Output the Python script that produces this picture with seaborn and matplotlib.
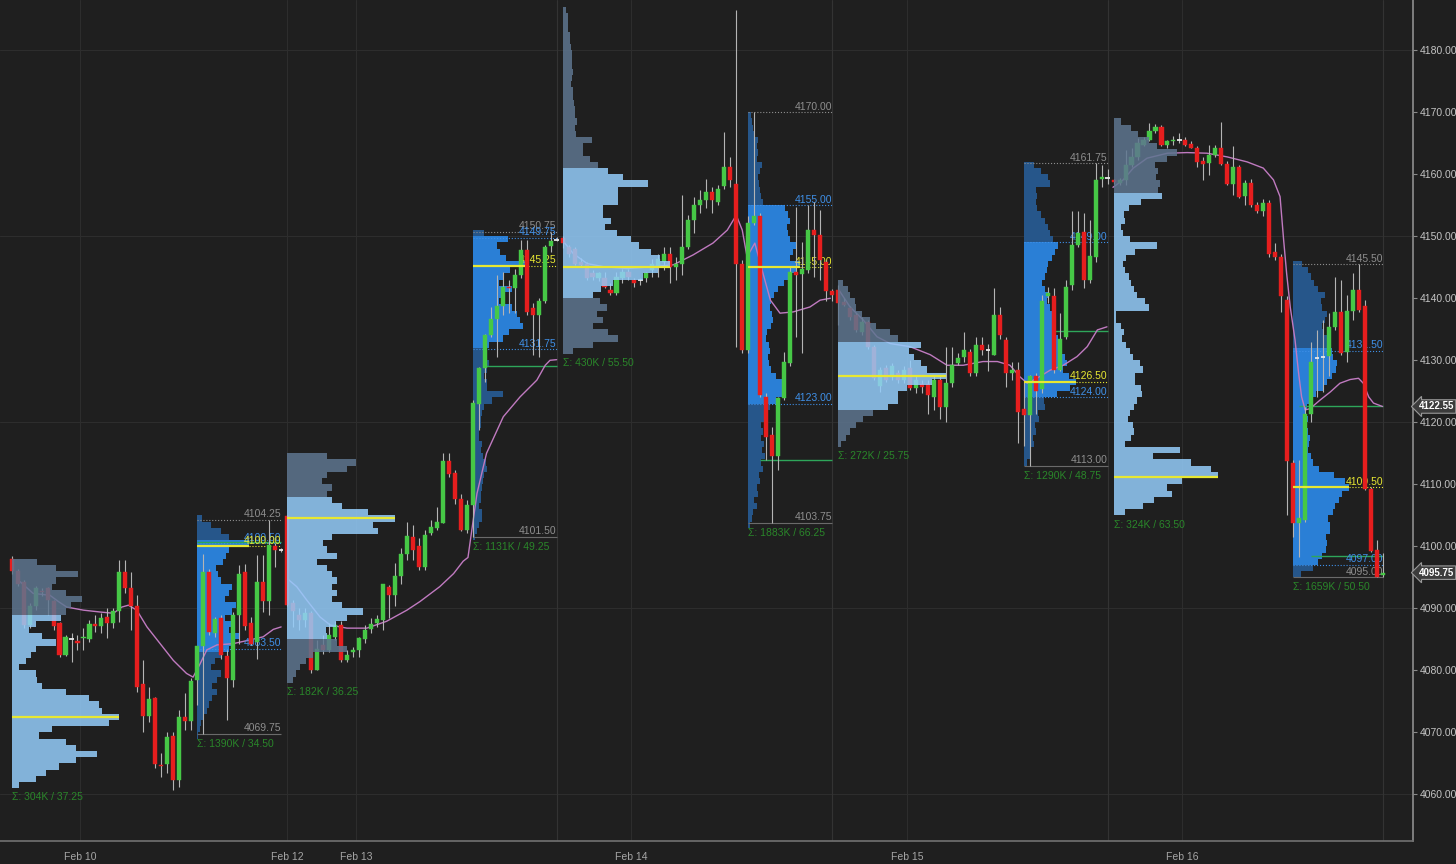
import numpy as np
import pandas as pd
import matplotlib
matplotlib.use("Agg")
import matplotlib.pyplot as plt
import matplotlib.transforms as mtransforms
import seaborn as sns

# ---------------- candles: 30 min bars (open, high, low, close), one list per session ----------------
eth1 = [(4098.0, 4098.5, 4095.5, 4096.0), (4096.0, 4096.3, 4093.6, 4094.0), (4094.2, 4094.5, 4086.8, 4087.3),
        (4087.3, 4090.8, 4086.8, 4090.3), (4090.4, 4093.6, 4089.8, 4093.2), (4092.8, 4093.2, 4092.0, 4092.6),
        (4093.2, 4093.5, 4088.9, 4091.3), (4091.1, 4091.4, 4086.5, 4087.1), (4087.6, 4087.8, 4082.2, 4082.5),
        (4082.5, 4085.7, 4082.3, 4085.3), (4085.0, 4086.0, 4081.4, 4085.1), (4084.8, 4085.7, 4083.3, 4084.4),
        (4085.2, 4086.8, 4083.3, 4085.4), (4085.0, 4088.1, 4084.6, 4087.5), (4087.5, 4088.9, 4086.2, 4087.1),
        (4087.1, 4089.2, 4086.0, 4088.5), (4088.6, 4090.0, 4085.2, 4087.6), (4087.6, 4090.0, 4086.8, 4089.5),
        (4089.6, 4097.8, 4087.8, 4095.9), (4095.8, 4097.8, 4092.4, 4093.2), (4093.2, 4095.9, 4086.5, 4090.3),
        (4090.3, 4092.1, 4076.5, 4077.3), (4077.8, 4081.6, 4070.1, 4072.7), (4072.7, 4077.3, 4071.7, 4075.4),
        (4075.5, 4075.7, 4064.2, 4064.9), (4064.8, 4066.6, 4062.8, 4064.6), (4064.9, 4070.1, 4063.4, 4069.3),
        (4069.4, 4070.1, 4060.7, 4062.3), (4062.3, 4073.6, 4061.2, 4072.4), (4072.4, 4076.3, 4070.4, 4071.9),
        (4071.9, 4078.7, 4070.4, 4078.2)]
rth1 = [(4078.4, 4084.0, 4074.4, 4083.9), (4083.9, 4098.8, 4069.75, 4095.8), (4095.8, 4096.4, 4085.7, 4086.2),
        (4086.0, 4088.6, 4085.4, 4088.2), (4088.5, 4088.9, 4081.9, 4082.5), (4082.3, 4083.3, 4072.0, 4078.7),
        (4078.4, 4089.4, 4077.3, 4088.9), (4088.9, 4097.0, 4084.3, 4095.6), (4095.8, 4097.2, 4086.5, 4087.1),
        (4087.6, 4088.6, 4084.1, 4084.3), (4084.6, 4098.6, 4081.9, 4094.3), (4094.3, 4098.6, 4089.4, 4091.2),
        (4091.2, 4104.25, 4089.0, 4100.2), (4100.0, 4100.5, 4096.7, 4099.4), (4099.4, 4099.7, 4099.1, 4099.5)]
eth2 = [(4104.9, 4105.1, 4090.3, 4090.5), (4090.8, 4091.3, 4087.0, 4089.5), (4089.0, 4090.0, 4086.5, 4088.1),
        (4088.1, 4090.0, 4087.0, 4089.3), (4089.2, 4089.5, 4079.5, 4080.1), (4080.1, 4084.9, 4080.0, 4083.5),
        (4084.1, 4085.7, 4082.7, 4083.3), (4083.3, 4087.6, 4083.0, 4085.7), (4085.4, 4087.9, 4084.9, 4087.3),
        (4087.3, 4087.9, 4081.4, 4081.7), (4081.7, 4083.3, 4081.4, 4082.5), (4083.0, 4083.8, 4082.2, 4083.2),
        (4083.2, 4085.4, 4082.2, 4085.2), (4085.1, 4087.3, 4084.4, 4086.5), (4086.6, 4088.4, 4086.0, 4087.5),
        (4087.6, 4088.9, 4087.0, 4088.3), (4088.1, 4094.0, 4086.5, 4093.9), (4093.5, 4093.8, 4088.4, 4092.2),
        (4092.2, 4097.3, 4090.3, 4095.2), (4095.2, 4099.7, 4094.0, 4098.8), (4098.8, 4104.0, 4097.8, 4101.6),
        (4101.5, 4103.4, 4097.8, 4099.4), (4100.1, 4101.3, 4096.2, 4096.7), (4096.7, 4102.6, 4096.2, 4101.8),
        (4102.1, 4104.2, 4101.8, 4103.1), (4102.9, 4106.4, 4102.6, 4104.0), (4103.8, 4115.0, 4103.7, 4113.8),
        (4113.8, 4115.0, 4111.2, 4111.7), (4111.9, 4112.3, 4106.9, 4107.7), (4107.7, 4108.5, 4102.4, 4102.6),
        (4102.6, 4107.5, 4102.1, 4106.7)]
rth2 = [(4106.7, 4123.6, 4101.5, 4123.1), (4123.0, 4128.9, 4118.8, 4128.7), (4128.7, 4134.3, 4126.5, 4134.1),
        (4134.1, 4138.6, 4133.8, 4136.6), (4136.6, 4143.8, 4130.6, 4138.8), (4138.8, 4144.3, 4137.3, 4141.8),
        (4141.8, 4143.0, 4137.6, 4141.6), (4141.6, 4144.8, 4137.6, 4143.8), (4143.8, 4149.4, 4143.2, 4147.8),
        (4147.8, 4149.4, 4137.3, 4137.8), (4138.4, 4139.2, 4130.9, 4137.3), (4137.3, 4140.0, 4130.6, 4139.5),
        (4139.5, 4148.6, 4139.2, 4148.3), (4148.5, 4150.75, 4147.5, 4149.3), (4149.4, 4149.9, 4149.3, 4149.5)]
eth3 = [(4149.7, 4150.0, 4148.1, 4148.9), (4148.3, 4148.6, 4146.7, 4147.2), (4148.0, 4148.3, 4145.4, 4145.6),
        (4145.9, 4146.5, 4145.0, 4145.4), (4145.6, 4145.9, 4143.0, 4143.2), (4144.0, 4144.5, 4143.0, 4143.4),
        (4143.2, 4144.3, 4142.8, 4144.0), (4143.2, 4144.3, 4141.6, 4141.9), (4141.4, 4142.4, 4140.5, 4140.8),
        (4140.8, 4144.3, 4140.5, 4143.5), (4143.2, 4144.8, 4142.5, 4144.3), (4144.3, 4144.8, 4143.0, 4143.5),
        (4143.0, 4143.3, 4141.9, 4142.4), (4142.9, 4143.3, 4142.1, 4143.0), (4143.2, 4144.3, 4142.7, 4144.0),
        (4144.5, 4146.4, 4143.5, 4145.6), (4145.1, 4147.2, 4143.5, 4146.4), (4145.9, 4148.3, 4144.6, 4147.2),
        (4147.2, 4148.3, 4142.4, 4145.1), (4145.1, 4146.7, 4143.0, 4145.6), (4145.6, 4156.6, 4143.8, 4148.3),
        (4148.3, 4153.4, 4148.0, 4152.6), (4152.6, 4156.4, 4150.5, 4155.0), (4155.0, 4157.5, 4153.7, 4155.9),
        (4155.9, 4159.3, 4154.5, 4157.2), (4157.2, 4158.0, 4153.7, 4155.8), (4155.6, 4158.3, 4155.0, 4157.7),
        (4158.1, 4166.9, 4157.7, 4161.2), (4161.2, 4162.8, 4158.0, 4159.1), (4158.5, 4186.5, 4132.2, 4145.6),
        (4145.6, 4146.2, 4131.1, 4131.6)]
rth3 = [(4131.6, 4153.2, 4131.1, 4152.1), (4152.2, 4170.0, 4151.8, 4153.2), (4153.2, 4153.7, 4124.1, 4124.4),
        (4124.1, 4124.7, 4113.9, 4117.7), (4117.9, 4119.3, 4103.75, 4114.5), (4114.5, 4124.1, 4112.3, 4123.9),
        (4123.9, 4131.4, 4123.6, 4129.8), (4129.5, 4145.1, 4129.0, 4144.3), (4144.3, 4154.8, 4133.8, 4143.8),
        (4143.9, 4149.1, 4131.1, 4144.7), (4144.6, 4155.0, 4144.0, 4151.0), (4151.0, 4155.6, 4143.5, 4150.2),
        (4150.2, 4154.2, 4143.0, 4146.2), (4145.9, 4146.2, 4139.5, 4141.1), (4141.1, 4141.5, 4139.5, 4140.6)]
eth4 = [(4141.3, 4142.1, 4135.7, 4139.3), (4139.4, 4140.0, 4138.7, 4138.9), (4138.4, 4138.7, 4136.5, 4137.0),
        (4137.3, 4137.6, 4134.6, 4134.9), (4134.6, 4137.0, 4134.1, 4136.2), (4136.2, 4136.5, 4131.9, 4132.2),
        (4132.2, 4132.5, 4126.8, 4127.1), (4125.8, 4128.9, 4124.9, 4128.4), (4128.7, 4129.2, 4126.5, 4126.8),
        (4127.3, 4129.5, 4126.8, 4129.0), (4127.9, 4128.4, 4126.3, 4126.8), (4126.8, 4129.0, 4126.3, 4128.4),
        (4128.7, 4130.1, 4125.2, 4125.5), (4125.5, 4127.4, 4124.7, 4126.8), (4126.2, 4126.8, 4124.7, 4125.7),
        (4126.2, 4126.8, 4121.4, 4124.4), (4124.1, 4127.4, 4122.0, 4126.8), (4126.8, 4127.4, 4120.6, 4122.5),
        (4122.5, 4132.2, 4120.1, 4126.3), (4126.3, 4132.2, 4125.7, 4129.2), (4129.5, 4131.1, 4129.2, 4130.3),
        (4130.6, 4134.6, 4129.8, 4131.6), (4131.4, 4131.9, 4127.4, 4127.9), (4127.9, 4133.8, 4127.4, 4132.5),
        (4132.5, 4133.8, 4130.9, 4131.7), (4131.6, 4132.7, 4128.2, 4131.5), (4130.9, 4141.6, 4130.9, 4137.3),
        (4137.3, 4138.6, 4133.5, 4134.1), (4133.3, 4133.8, 4125.7, 4128.0), (4128.0, 4129.8, 4126.8, 4128.5),
        (4128.5, 4129.8, 4116.6, 4121.7)]
rth4 = [(4122.1, 4126.8, 4116.1, 4121.2), (4121.2, 4127.6, 4113.0, 4127.4), (4127.4, 4127.9, 4121.4, 4125.1),
        (4125.3, 4140.5, 4124.7, 4139.5), (4140.3, 4141.9, 4139.2, 4140.8), (4140.3, 4141.6, 4128.0, 4128.4),
        (4128.4, 4137.6, 4128.2, 4133.5), (4133.8, 4142.9, 4133.5, 4141.9), (4142.1, 4154.0, 4141.3, 4148.6),
        (4148.6, 4154.0, 4148.3, 4150.6), (4150.7, 4153.7, 4141.6, 4142.9), (4142.9, 4152.6, 4142.4, 4146.8),
        (4146.7, 4161.75, 4145.9, 4159.1), (4159.2, 4161.5, 4158.0, 4159.6), (4159.4, 4160.9, 4158.5, 4159.5)]
eth5 = [(4159.1, 4159.3, 4158.5, 4158.8), (4158.6, 4159.4, 4158.3, 4159.1), (4159.1, 4163.9, 4158.3, 4161.5),
        (4161.5, 4164.2, 4161.2, 4162.8), (4162.8, 4165.8, 4162.3, 4165.0), (4164.7, 4166.0, 4164.5, 4165.5),
        (4165.5, 4168.2, 4165.3, 4167.0), (4167.0, 4168.1, 4166.6, 4167.6), (4167.6, 4168.0, 4164.6, 4164.7),
        (4164.7, 4165.6, 4164.3, 4165.3), (4165.3, 4166.1, 4164.7, 4165.5), (4165.6, 4166.6, 4165.0, 4165.7),
        (4165.5, 4166.0, 4164.5, 4164.7), (4164.9, 4165.3, 4164.2, 4164.3), (4164.3, 4164.6, 4161.2, 4162.0),
        (4162.2, 4162.8, 4159.1, 4161.7), (4161.8, 4164.7, 4159.9, 4163.1), (4163.1, 4164.7, 4162.8, 4164.3),
        (4164.3, 4168.5, 4161.5, 4161.7), (4161.7, 4162.1, 4158.3, 4158.4), (4158.4, 4164.5, 4156.7, 4161.1),
        (4161.1, 4161.5, 4156.1, 4156.3), (4156.5, 4159.1, 4155.1, 4158.6), (4158.6, 4159.3, 4154.8, 4155.1),
        (4155.1, 4155.6, 4153.7, 4154.0), (4154.0, 4156.0, 4153.2, 4155.3), (4155.3, 4155.9, 4146.7, 4147.2),
        (4147.4, 4148.9, 4146.2, 4146.7), (4146.7, 4147.2, 4137.8, 4140.3), (4139.8, 4140.3, 4105.0, 4113.7)]
rth5 = [(4113.5, 4113.9, 4101.5, 4103.7), (4103.8, 4113.9, 4098.3, 4104.5), (4104.2, 4122.5, 4104.0, 4121.4),
        (4121.4, 4133.0, 4120.1, 4129.8), (4130.3, 4134.9, 4124.1, 4130.4), (4130.6, 4136.5, 4124.9, 4130.7),
        (4130.7, 4137.6, 4127.4, 4135.4), (4135.4, 4143.5, 4134.9, 4137.8), (4137.8, 4143.0, 4130.9, 4131.1),
        (4131.4, 4140.5, 4129.8, 4138.0), (4138.0, 4144.0, 4136.5, 4141.4), (4141.4, 4145.5, 4137.8, 4138.1),
        (4138.8, 4139.7, 4109.1, 4109.3), (4109.3, 4109.6, 4099.1, 4099.3), (4099.4, 4101.0, 4095.0, 4095.1),
        (4095.4, 4098.9, 4095.0, 4095.75)]

# ---------------- volume profiles: volume per 1-point level, starting at the low level ----------------
profile_low = [4061, 4069, 4078, 4101, 4131, 4103, 4116, 4113, 4105, 4095]
p1_vol = [7, 24, 34, 47, 64, 85, 64, 54, 27, 40, 97, 107, 90, 87, 77, 54, 30, 25, 24, 7,
          14, 19, 24, 44, 30, 17, 24, 49, 54, 59, 70, 54, 40, 44, 66, 44, 25]
p2_vol = [1, 3, 4, 6, 9, 11, 14, 19, 14, 19, 23, 13, 17, 23, 30, 35, 40, 30, 35, 27,
          33, 37, 27, 30, 33, 23, 20, 18, 25, 28, 30, 50, 30, 23, 13, 5]
p3_vol = [6, 9, 13, 19, 26, 60, 50, 40, 39, 49, 60, 75, 55, 45, 50, 45, 50, 45, 40, 30,
          50, 40, 36, 45, 90, 85, 107, 80, 55, 45, 40, 45, 35, 40, 60, 68, 40]
p4_vol = [2, 4, 6, 8, 8, 6, 7, 7, 8, 9, 10, 13, 12, 9, 7, 8, 6, 6, 7, 7,
          8, 10, 17, 27, 13, 13, 10, 13, 15, 12, 11, 15, 27, 33, 45, 43, 40, 35, 24, 27,
          35, 24, 28, 34, 47, 30, 25, 22, 32, 10]
p5_vol = [10, 30, 55, 45, 30, 40, 34, 44, 37, 30, 38, 50, 80, 95, 107, 97, 88, 76, 68, 54,
          42, 48, 40, 40, 55, 55, 55, 85, 60, 45, 35, 27, 20, 20, 29, 13, 12, 14, 12, 12,
          11, 10, 10, 8, 9, 10, 9, 9, 9, 8, 7, 7, 5, 5, 5, 3]
p6_vol = [2, 4, 5, 8, 6, 9, 8, 11, 10, 14, 12, 16, 13, 15, 12, 14, 12, 16, 18, 21,
          27, 32, 35, 32, 27, 22, 20, 19, 21, 20, 17, 18, 22, 24, 23, 21, 22, 25, 29, 34,
          40, 46, 50, 40, 43, 47, 40, 38, 37, 40, 38, 35, 14, 12, 11, 10, 9, 11, 13, 8,
          9, 8, 9, 6, 5, 4, 3]
p7_vol = [3, 8, 12, 18, 25, 35, 50, 60, 60, 68, 93, 107, 88, 82, 75, 70, 82, 60, 52, 38,
          32, 24, 18, 17, 12, 10, 5]
p8_vol = [3, 7, 6, 10, 9, 12, 11, 15, 14, 20, 19, 32, 44, 50, 43, 38, 42, 40, 37, 35,
          33, 30, 28, 28, 27, 25, 22, 23, 20, 18, 20, 22, 23, 27, 30, 33, 28, 25, 23, 20,
          17, 13, 12, 13, 12, 25, 23, 17, 10]
p9_vol = [12, 30, 42, 60, 55, 70, 107, 100, 80, 40, 68, 12, 18, 21, 20, 15, 17, 21, 24, 29,
          28, 22, 22, 30, 27, 20, 17, 13, 9, 11, 8, 2, 3, 36, 32, 24, 21, 18, 16, 12,
          10, 13, 22, 45, 17, 10, 8, 12, 11, 16, 28, 50, 46, 48, 44, 46, 43, 55, 65, 45,
          36, 25, 18, 8]
p10_vol = [8, 19, 24, 28, 32, 33, 32, 36, 36, 34, 39, 41, 44, 47, 54, 50, 40, 25, 19, 17,
           14, 15, 16, 14, 13, 14, 11, 13, 16, 22, 30, 33, 38, 42, 43, 39, 38, 34, 33, 29,
           28, 31, 33, 28, 27, 31, 24, 20, 17, 14, 9]
profile_vol = [p1_vol, p2_vol, p3_vol, p4_vol, p5_vol, p6_vol, p7_vol, p8_vol, p9_vol, p10_vol]
value_area = [(4061, 4088.5), (4083.5, 4100.5), (4085.5, 4108.25), (4131.75, 4149.75), (4139.75, 4160.75),
              (4123.0, 4155.0), (4121.75, 4133.0), (4124.0, 4149.0), (4105.0, 4156.75), (4097.0, 4131.5)]
poc = [4072.5, 4100.0, 4104.5, 4145.25, 4145.0, 4145.0, 4127.5, 4126.5, 4111.25, 4109.5]
sigma_text = ["Σ: 304K / 37.25", "Σ: 1390K / 34.50", "Σ: 182K / 36.25", "Σ: 1131K / 49.25", "Σ: 430K / 55.50",
              "Σ: 1883K / 66.25", "Σ: 272K / 25.75", "Σ: 1290K / 48.75", "Σ: 324K / 63.50", "Σ: 1659K / 50.50"]

# day session extremes
rth_high = [4104.25, 4150.75, 4170.00, 4161.75, 4145.50]
rth_low = [4069.75, 4101.50, 4103.75, 4113.00, 4095.00]

# green reference lines (price, first bar, last bar)
ref_level = [4100.75, 4129.0, 4113.9, 4134.8, 4122.7, 4098.4]
ref_from = [31, 79, 125, 174, 215, 217]
ref_to = [45, 91, 137, 183, 229, 229]

# session VWAP line, read per bar position
vwap_bar_1 = [1.4, 3.6, 6.4, 7.8, 9.2, 12.0, 14.8, 17.0, 18.4, 19.5, 20.9, 22.6, 24.8, 27.0, 29.2, 30.3,
              31.5, 32.6, 34.3, 37.0, 39.8, 42.0, 43.7, 45.0]
vwap_val_1 = [4094.3, 4092.4, 4092.1, 4091.1, 4090.2, 4089.7, 4089.4, 4089.2, 4090.2, 4090.5, 4089.7, 4087.0,
              4084.3, 4081.6, 4079.5, 4078.9, 4081.1, 4083.3, 4084.1, 4084.3, 4084.9, 4085.4, 4086.6, 4087.0]
vwap_bar_2 = [46.0, 47.6, 49.3, 51.5, 53.2, 56.0, 59.3, 62.6, 66.0, 68.2, 71.5, 73.8, 75.4, 76.2, 77.7,
              79.3, 82.1, 84.9, 87.7, 89.1, 89.9, 91.0]
vwap_val_2 = [4094.8, 4093.5, 4091.3, 4088.6, 4087.3, 4086.8, 4086.8, 4087.9, 4089.7, 4091.1, 4093.5, 4095.6,
              4097.6, 4098.2, 4108.5, 4115.0, 4120.9, 4124.1, 4126.8, 4129.2, 4130.0, 4130.1]
vwap_bar_3 = [92.2, 93.8, 96.1, 98.8, 102.8, 107.1, 110.5, 113.8, 117.1, 119.5, 121.0, 122.0, 122.8, 124.1,
              125.3, 126.7, 128.3, 130.5, 133.3, 135.0, 136.7]
vwap_val_3 = [4149.1, 4147.2, 4145.6, 4145.1, 4144.8, 4145.1, 4145.4, 4147.0, 4148.9, 4151.0, 4153.4, 4151.0,
              4146.7, 4148.9, 4144.6, 4139.7, 4137.6, 4137.8, 4138.6, 4139.7, 4140.0]
vwap_bar_4 = [138.3, 140.0, 142.2, 144.5, 146.7, 150.0, 153.4, 156.2, 158.9, 162.2, 164.6, 166.7, 168.4,
              169.6, 171.2, 173.4, 175.6, 177.9, 179.6, 181.3, 182.9]
vwap_val_4 = [4141.1, 4138.6, 4136.5, 4133.8, 4132.7, 4132.2, 4130.9, 4129.2, 4129.2, 4129.8, 4129.8, 4129.2,
              4127.3, 4126.3, 4127.1, 4128.4, 4129.2, 4130.6, 4132.2, 4134.9, 4135.4]
vwap_bar_5 = [183.9, 185.6, 187.3, 189.6, 193.0, 196.3, 199.6, 203.0, 206.3, 209.0, 210.7, 211.8, 212.4,
              212.9, 213.5, 214.3, 214.9, 215.4, 216.0, 216.8, 218.5, 220.2, 221.8, 223.5, 224.9, 225.7,
              226.6, 227.4, 228.9]
vwap_val_5 = [4157.9, 4159.1, 4161.0, 4162.6, 4163.4, 4163.5, 4163.4, 4162.8, 4162.0, 4161.0, 4159.1, 4156.4,
              4149.4, 4144.0, 4138.6, 4133.3, 4127.9, 4124.1, 4122.0, 4122.2, 4123.6, 4124.9, 4126.3, 4126.9,
              4127.1, 4126.3, 4124.1, 4123.1, 4122.55]

tick_dates = ["Feb 10", "Feb 12", "Feb 13", "Feb 14", "Feb 15", "Feb 16"]
tick_bar = [11.5, 46.0, 57.5, 103.5, 149.5, 195.5]

# ---------------- style ----------------
BG = "#1f1f1f"
UP, DOWN, WICK, DOJI = "#46c846", "#e61e1e", "#b4b4b4", "#e8e8e8"
ETH_VA, ETH_OUT = "#94cdfb", "#5e7690"
RTH_VA, RTH_OUT = "#2a7fd6", "#26568a"
YELLOW, BLUE, GRAY, SIGMA = "#e8e832", "#3f90e8", "#8e8e8e", "#2a862a"
REF_GREEN, VWAP_COL, GRID = "#2ea65a", "#c07ac0", "#2d2d2d"

sns.set_theme(style="dark", rc={"axes.facecolor": BG, "figure.facecolor": BG,
                                "axes.edgecolor": "#777777", "axes.grid": False})
plt.rcParams["font.family"] = ["Liberation Sans", "DejaVu Sans"]

fig = plt.figure(figsize=(14.56, 8.64), dpi=100)
ax = fig.add_axes([0, 23 / 864, 1413 / 1456, 841 / 864])
ax.set_xlim(-1.94, 234.0)
ax.set_ylim(4052.47, 4188.11)

sessions = [eth1, rth1, eth2, rth2, eth3, rth3, eth4, rth4, eth5, rth5]
kinds = ["eth", "rth"] * 5
starts = np.cumsum([0] + [len(s) for s in sessions[:-1]])

# grid and session separators
for v in range(4060, 4181, 30):
    ax.axhline(v, color=GRID, lw=0.8, zorder=0.5)
for xb in tick_bar:
    ax.axvline(xb, color=GRID, lw=0.8, zorder=0.5)
for s0, bars, kind in zip(starts, sessions, kinds):
    if kind == "rth" and s0 > 31:
        ax.axvline(s0 + len(bars) - 1, color="#333333", lw=0.8, zorder=0.5)

# ---------------- candles ----------------
rows = []
for s0, bars in zip(starts, sessions):
    for j, (o, h, l, c) in enumerate(bars):
        rows.append((s0 + j, o, h, l, c))
cd = pd.DataFrame(rows, columns=["bar", "open", "high", "low", "close"])
ax.vlines(cd["bar"], cd[["low", "open", "close"]].min(axis=1), cd[["high", "open", "close"]].max(axis=1),
          color=WICK, lw=0.8, zorder=2.8)
doji = (cd["close"] - cd["open"]).abs() < 0.15
body = cd[~doji]
cols = np.where(body["close"] > body["open"], UP, DOWN)
ax.bar(body["bar"], (body["close"] - body["open"]).abs(), bottom=body[["open", "close"]].min(axis=1),
       width=0.68, color=cols, edgecolor=cols, lw=0.3, zorder=3)
dj = cd[doji]
ax.hlines(dj["open"], dj["bar"] - 0.38, dj["bar"] + 0.38, color=DOJI, lw=1.3, zorder=3)

# ---------------- VWAP ----------------
vw = pd.concat([pd.DataFrame({"bar": b, "price": v, "seg": i})
                for i, (b, v) in enumerate([(vwap_bar_1, vwap_val_1), (vwap_bar_2, vwap_val_2),
                                            (vwap_bar_3, vwap_val_3), (vwap_bar_4, vwap_val_4),
                                            (vwap_bar_5, vwap_val_5)])])
sns.lineplot(data=vw, x="bar", y="price", units="seg", estimator=None, color=VWAP_COL, lw=1.0,
             ax=ax, zorder=2, legend=False)

# ---------------- volume profiles ----------------
r = 0
for idx, (s0, bars, kind) in enumerate(zip(starts, sessions, kinds)):
    vol = np.array(profile_vol[idx], float)
    lv = profile_low[idx] + np.arange(len(vol))
    maxw = 0.58 * len(bars)
    w = vol / vol.max() * maxw
    va_lo, va_hi = value_area[idx]
    inva = (lv + 0.5 >= va_lo) & (lv + 0.5 <= va_hi)
    end = s0 + len(bars) - 1
    if kind == "eth":
        ax.barh(lv + 0.5, w, height=1.0, left=s0, color=np.where(inva, ETH_VA, ETH_OUT),
                alpha=0.85, lw=0, zorder=4)
        ax.hlines(poc[idx], s0, s0 + maxw, color=YELLOW, lw=1.6, zorder=5)
        ax.text(s0, profile_low[idx] - 0.7, sigma_text[idx], color=SIGMA, fontsize=7.5,
                ha="left", va="top", zorder=5)
    else:
        ax.barh(lv + 0.5, w, height=1.0, left=s0, color=np.where(inva, RTH_VA, RTH_OUT), lw=0, zorder=1)
        hi, lo = rth_high[r], rth_low[r]
        ax.hlines(hi, s0, end, color=GRAY, lw=0.8, linestyles=":", zorder=1.5)
        ax.hlines(lo, s0, end, color="#6a6a6a", lw=0.8, zorder=1.5)
        ax.hlines([va_hi, va_lo], s0, end, color=BLUE, lw=0.8, linestyles=":", zorder=1.5)
        ax.hlines(poc[idx], s0, s0 + maxw, color=YELLOW, lw=1.6, zorder=3.5)
        ax.hlines(poc[idx], s0 + maxw, end, color=YELLOW, lw=0.8, linestyles=":", zorder=1.5)
        for val, col in [(hi, GRAY), (va_hi, BLUE), (poc[idx], YELLOW), (va_lo, BLUE), (lo, GRAY)]:
            ax.text(end, val + 0.1, f"{val:.2f}", color=col, fontsize=7.5, ha="right", va="bottom", zorder=2)
        ax.text(s0, lo - 0.8, sigma_text[idx], color=SIGMA, fontsize=7.5, ha="left", va="top", zorder=5)
        r += 1

for lvl, a, b in zip(ref_level, ref_from, ref_to):
    ax.hlines(lvl, a, b, color=REF_GREEN, lw=1.0, zorder=1.6)

# ---------------- axes ----------------
ax.set_xlabel("")
ax.set_ylabel("")
ax.yaxis.tick_right()
yt = np.arange(4060, 4181, 10)
ax.set_yticks(yt)
ax.set_yticklabels([f"{v:.2f}" for v in yt])
ax.tick_params(axis="y", length=3, width=0.8, color="#8a8a8a", pad=2, labelsize=7.5, labelcolor="#c4c4c4")
ax.set_xticks(tick_bar)
ax.set_xticklabels(tick_dates)
ax.tick_params(axis="x", length=3, width=0.8, color="#6e6e6e", pad=5, labelsize=7.5, labelcolor="#a6a6a6")
for side in ["top", "left"]:
    ax.spines[side].set_visible(False)
ax.spines["right"].set_color("#8a8a8a")
ax.spines["bottom"].set_color("#6e6e6e")

# last price / last VWAP boxes on the price scale
trans = mtransforms.blended_transform_factory(ax.transAxes, ax.transData)
for val in [vwap_val_5[-1], rth5[-1][3]]:
    ax.text(1.0040, val, f"{val:.2f}", transform=trans, ha="left", va="center", fontsize=7,
            color="white", fontweight="bold", clip_on=False, zorder=10,
            bbox=dict(boxstyle="larrow,pad=0.18", fc="#3c3c3c", ec="#9a9a9a", lw=0.8))

fig.savefig("out.png", dpi=100, facecolor=BG)
